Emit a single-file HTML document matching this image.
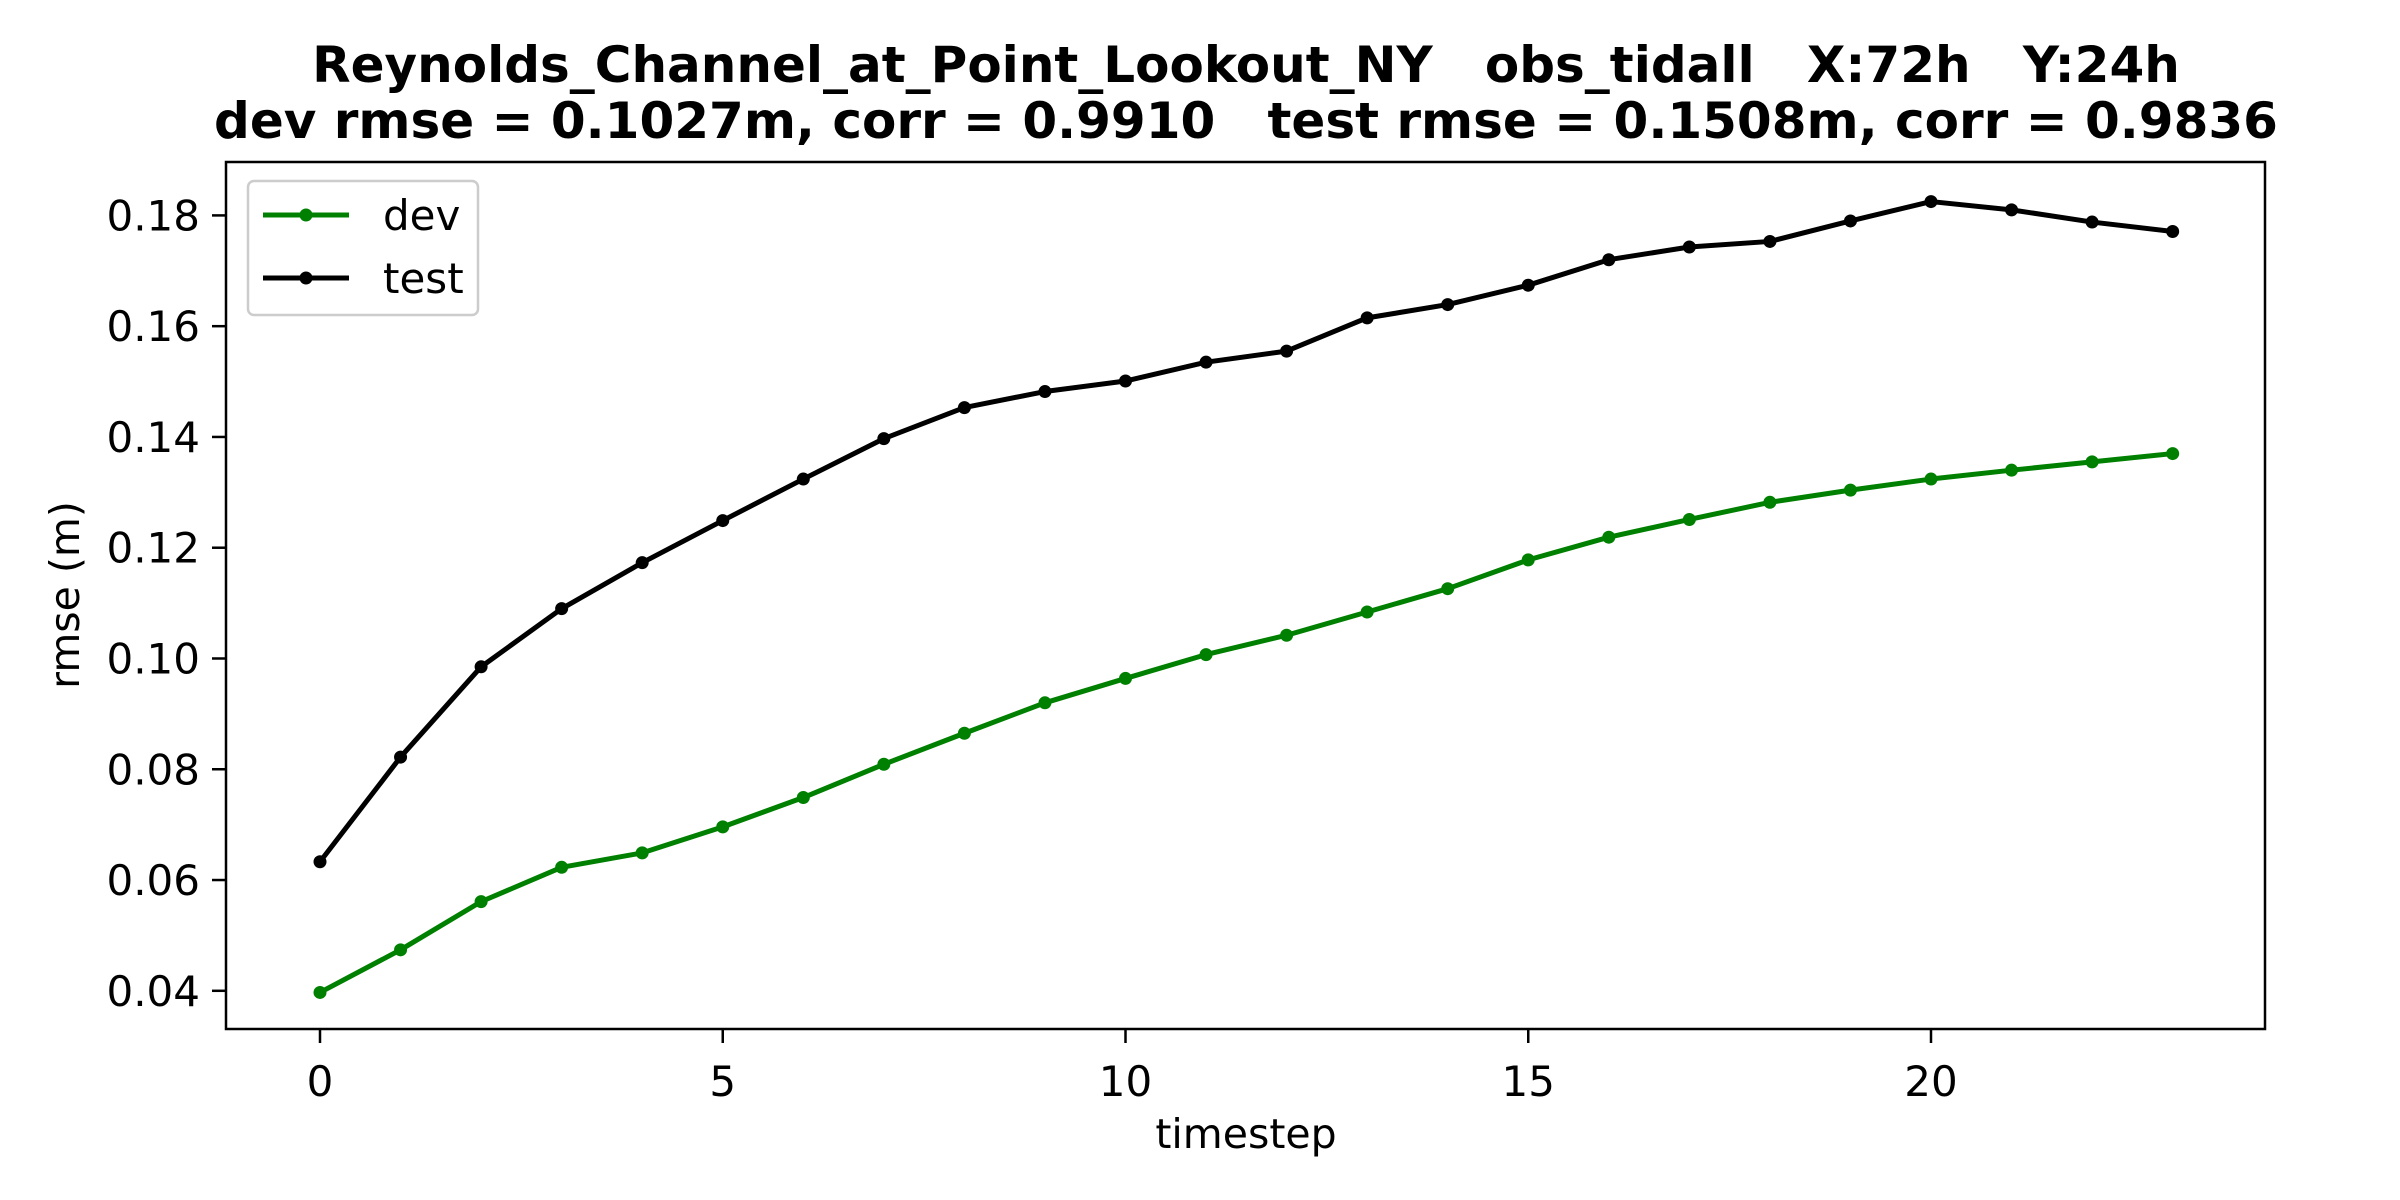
<!DOCTYPE html>
<html><head><meta charset="utf-8"><style>
body{margin:0;background:#fff}
svg{display:block;font-family:"DejaVu Sans","Liberation Sans",sans-serif}
text{white-space:pre}
</style></head><body>
<svg id="chart" width="2400" height="1200" viewBox="0 0 2400 1200">
<rect width="2400" height="1200" fill="#fff"/>
<text x="1246" y="82" text-anchor="middle" font-size="50" font-weight="bold" xml:space="preserve">Reynolds_Channel_at_Point_Lookout_NY   obs_tidall   X:72h   Y:24h</text>
<text x="1246" y="138" text-anchor="middle" font-size="50" font-weight="bold" xml:space="preserve">dev rmse = 0.1027m, corr = 0.9910   test rmse = 0.1508m, corr = 0.9836</text>
<g id="plot"></g>
<text x="1246" y="1148" text-anchor="middle" font-size="41">timestep</text>
<text transform="translate(79,595) rotate(-90)" text-anchor="middle" font-size="41">rmse (m)</text>
</svg>
<script>
const timesteps=[0,1,2,3,4,5,6,7,8,9,10,11,12,13,14,15,16,17,18,19,20,21,22,23];
const devValues=[0.0397,0.0474,0.0561,0.0623,0.0649,0.0696,0.0749,0.0809,0.0865,0.0920,0.0964,0.1007,0.1042,0.1084,0.1126,0.1178,0.1219,0.1251,0.1282,0.1304,0.1324,0.1340,0.1355,0.1370];
const testValues=[0.0633,0.0822,0.0985,0.1090,0.1173,0.1249,0.1324,0.1397,0.1453,0.1482,0.1501,0.1535,0.1555,0.1615,0.1639,0.1674,0.1720,0.1743,0.1753,0.1790,0.1825,0.1810,0.1788,0.1771];
const xTicks=[0,5,10,15,20];
const yTicks=[0.04,0.06,0.08,0.10,0.12,0.14,0.16,0.18];
const yTickLabels=["0.04","0.06","0.08","0.10","0.12","0.14","0.16","0.18"];

const NS="http://www.w3.org/2000/svg";
const L=226,R=2265,T=162,B=1029;
const sx=v=>320+v*80.55;
const sy=v=>990.8-(v-0.04)/0.02*110.77;
const g=document.getElementById('plot');
function mk(tag,attrs,parent){const e=document.createElementNS(NS,tag);for(const k in attrs)e.setAttribute(k,attrs[k]);(parent||g).appendChild(e);return e;}

xTicks.forEach(t=>{
  const tk=mk('line',{x1:sx(t),x2:sx(t),y1:B,y2:B+14,stroke:'#000','stroke-width':2.5});
  
  
  const lb=mk('text',{x:sx(t),y:B+67,'text-anchor':'middle','font-size':42});
  lb.textContent=t;
  
  
});
yTicks.forEach((t,i)=>{
  const tk=mk('line',{x1:L-14,x2:L,y1:sy(t),y2:sy(t),stroke:'#000','stroke-width':2.5});
  
  
  const lb=mk('text',{x:L-26,y:sy(t)+15,'text-anchor':'end','font-size':42});
  lb.textContent=yTickLabels[i];
  
  
});

function series(vals,color,name){
  const pl=mk('polyline',{points:vals.map((v,i)=>sx(timesteps[i])+','+sy(v)).join(' '),fill:'none',stroke:color,'stroke-width':5,'stroke-linejoin':'round'});
  
  
  vals.forEach((v,i)=>{
    const c=mk('circle',{cx:sx(timesteps[i]),cy:sy(v),r:6.5,fill:color});
    
    
  });
}
series(devValues,'#008000','dev');
series(testValues,'#000000','test');

const frame=mk('rect',{x:L,y:T,width:R-L,height:B-T,fill:'none',stroke:'#000','stroke-width':2.5});



const lg=mk('g',{});


mk('rect',{x:248,y:181,width:230,height:134,rx:6,fill:'#fff','fill-opacity':0.8,stroke:'#ccc','stroke-width':2.5},lg);
[['dev','#008000',215],['test','#000',278]].forEach(([n,c,y])=>{
  const e=mk('g',{},lg);
  
  
  mk('line',{x1:263,x2:349,y1:y,y2:y,stroke:c,'stroke-width':5},e);
  mk('circle',{cx:306,cy:y,r:6.5,fill:c},e);
  const t=mk('text',{x:383,y:y+15,'font-size':42},e);
  t.textContent=n;
});
</script>
</body></html>
